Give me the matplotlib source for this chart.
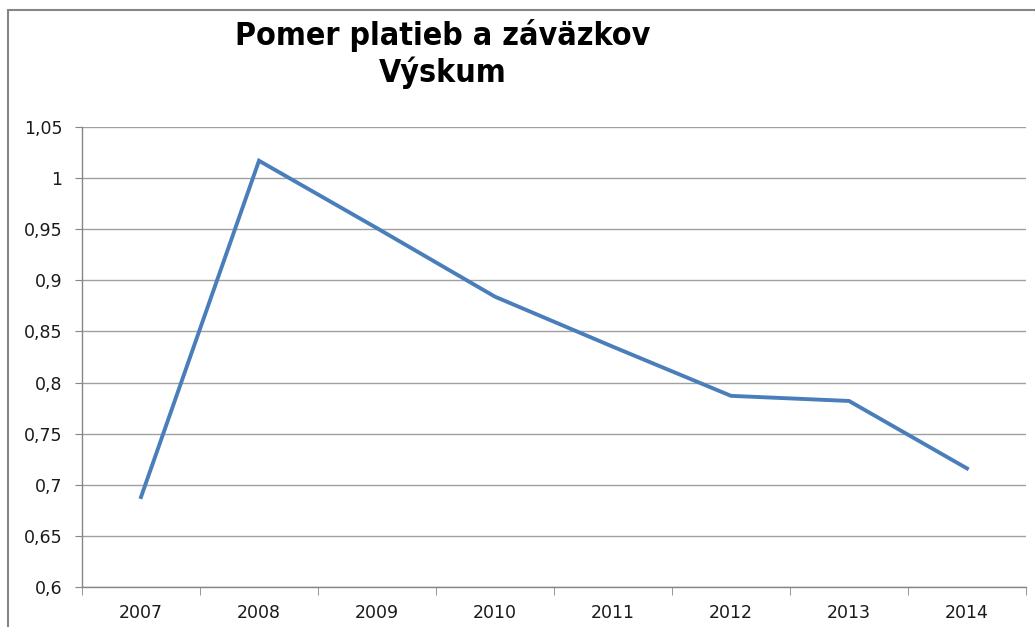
import matplotlib.pyplot as plt
from matplotlib.patches import Rectangle
from matplotlib.ticker import FixedLocator, FuncFormatter
from matplotlib import font_manager
import numpy as np

years = ['2007', '2008', '2009', '2010', '2011', '2012', '2013', '2014']
ratio = [0.688, 1.017, 0.951, 0.884, 0.835, 0.787, 0.782, 0.716]
y_ticks = [0.6, 0.65, 0.7, 0.75, 0.8, 0.85, 0.9, 0.95, 1.0, 1.05]

W, H = 1035, 627
fig = plt.figure(figsize=(W / 100, H / 100), dpi=100)

# outer chart frame (partly cut off by the screenshot)
fig.patches.append(Rectangle((8 / W, -0.1), 1.2, 1.1 - 10 / H, transform=fig.transFigure,
                             fill=False, edgecolor='#868686', linewidth=1.5))

ax = fig.add_axes([82 / W, 1 - 587 / H, (1026 - 82) / W, (587 - 127) / H])

x = np.arange(len(years))
ax.plot(x, ratio, color='#4a7ebb', linewidth=2.8, solid_joinstyle='miter')

ax.set_xlim(-0.5, len(years) - 0.5)
ax.set_ylim(0.6, 1.05)
ax.set_yticks(y_ticks)
ax.yaxis.set_major_formatter(FuncFormatter(lambda v, p: ('%g' % round(v, 2)).replace('.', ',')))
ax.set_xticks(x)
ax.set_xticklabels(years)
ax.xaxis.set_minor_locator(FixedLocator(np.arange(-0.5, len(years), 1.0)))
ax.tick_params(axis='x', which='major', length=0, pad=12)
ax.tick_params(axis='x', which='minor', length=6, color='#868686')
ax.tick_params(axis='y', length=5, color='#868686', pad=9)
ax.tick_params(labelsize=12.5, labelcolor='#1a1a1a')

ax.grid(axis='y', color='#a0a0a0', linewidth=1)
ax.set_axisbelow(True)
for s in ['top', 'right']:
    ax.spines[s].set_visible(False)
for s in ['left', 'bottom']:
    ax.spines[s].set_color('#868686')
    ax.spines[s].set_linewidth(1)

# Calibri-like condensed bold title
names = {f.name for f in font_manager.fontManager.ttflist}
title_font = 'Liberation Sans Narrow' if 'Liberation Sans Narrow' in names else 'DejaVu Sans'
fig.text(443 / W, 1 - 36 / H, 'Pomer platieb a záväzkov', ha='center', va='center',
         fontsize=23, fontweight='bold', family=title_font, fontstretch='condensed')
fig.text(443 / W, 1 - 73 / H, 'Výskum', ha='center', va='center',
         fontsize=23, fontweight='bold', family=title_font, fontstretch='condensed')

fig.savefig('out.png', dpi=100)
